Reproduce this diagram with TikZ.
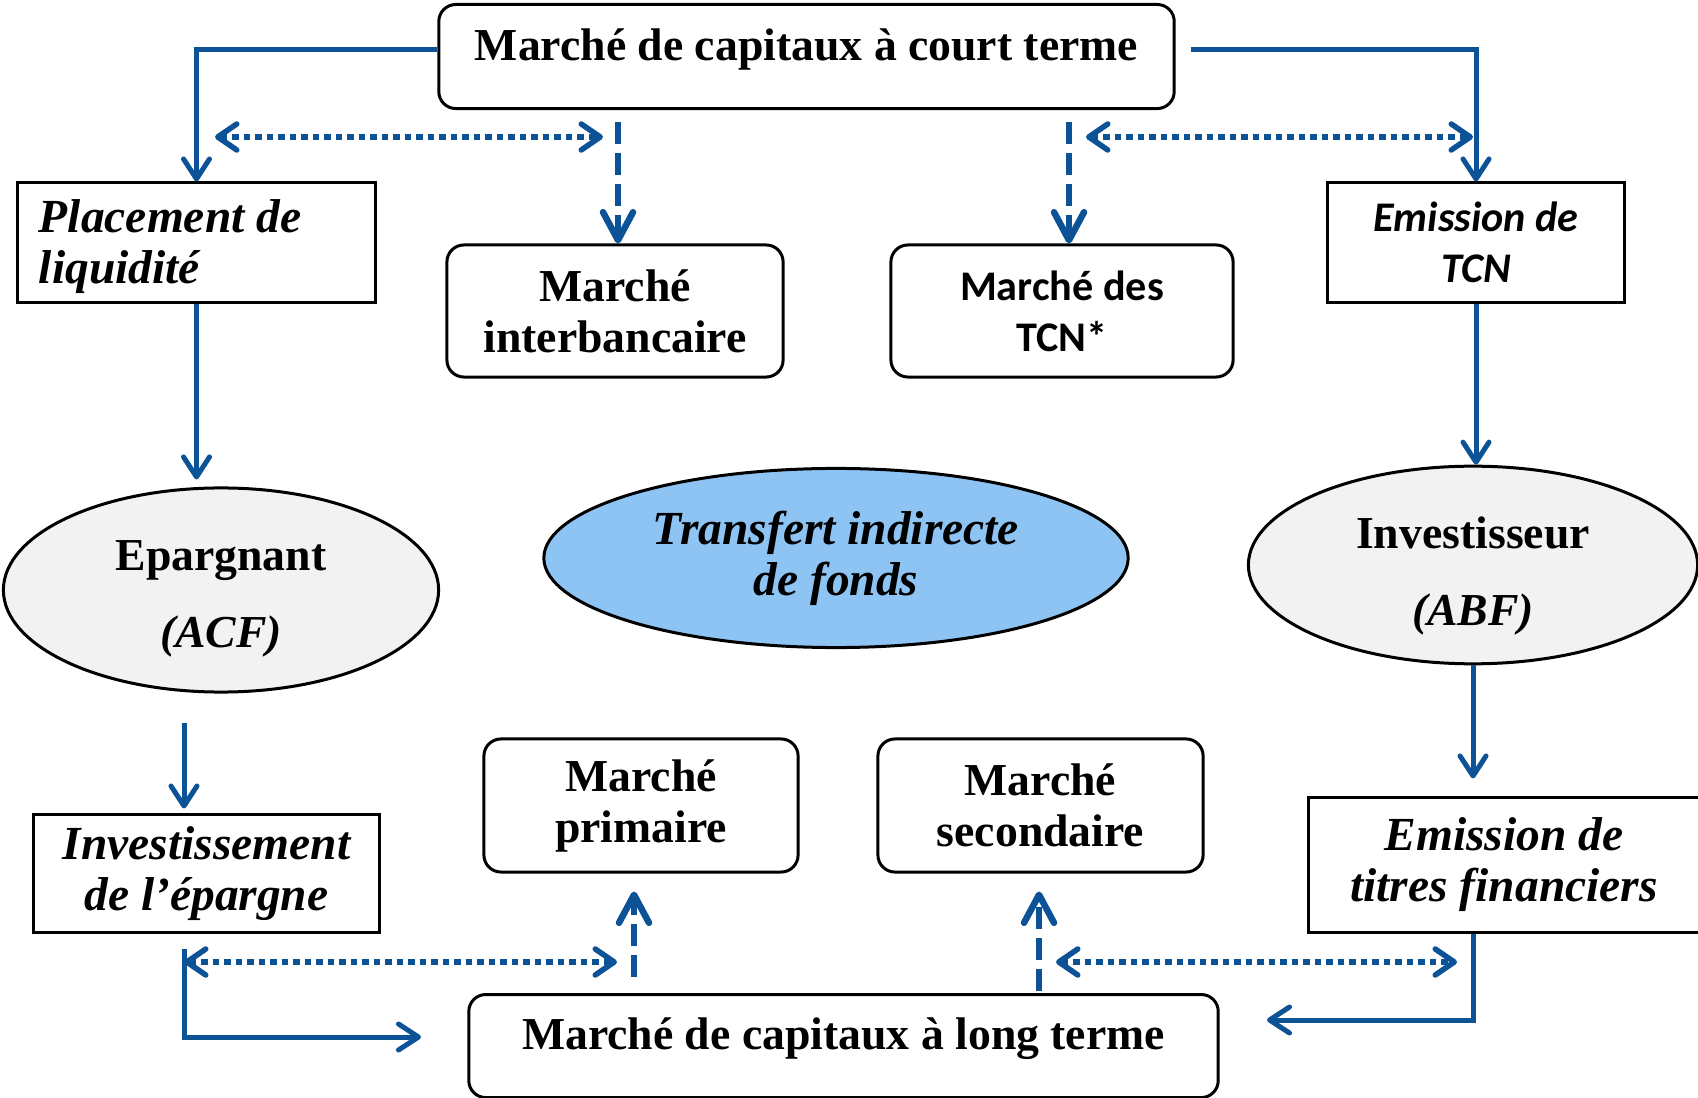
\documentclass[tikz,border=0pt]{standalone}
\usepackage{fontspec}
\setmainfont{Liberation Serif}
\newfontfamily\calib{Carlito}
\usetikzlibrary{arrows.meta, positioning, shapes.geometric}
\definecolor{flowblue}{RGB}{11,82,150}
\definecolor{ovalgray}{RGB}{242,242,242}
\definecolor{ovalblue}{RGB}{142,196,244}

\begin{document}
\begin{tikzpicture}[
    x=0.01cm, y=-0.01cm,
    box/.style={draw, line width=0.03cm, fill=white, align=center, inner sep=0pt, font=\fontsize{13}{14.5}\selectfont\bfseries},
    rbox/.style={box, rounded corners=0.17cm},
    ibox/.style={box, font=\fontsize{13.5}{14.5}\selectfont\bfseries\itshape},
    sbox/.style={font=\calib\fontsize{12}{14.5}\selectfont\bfseries},
    oval/.style={draw, ellipse, line width=0.03cm, fill=ovalgray, align=center, inner sep=0pt, font=\fontsize{13}{14.5}\selectfont\bfseries},
    arrow/.style={flowblue, line width=0.05cm, -{Straight Barb[length=0.2cm, width=0.26cm, round]}},
    twoway/.style={flowblue, line width=0.055cm, dash pattern=on 0.065cm off 0.05cm, {Straight Barb[length=0.19cm, width=0.26cm, round]}-{Straight Barb[length=0.19cm, width=0.26cm, round]}},
    dasharrow/.style={flowblue, line width=0.065cm, dash pattern=on 0.22cm off 0.09cm, -{Straight Barb[length=0.28cm, width=0.3cm, round]}}
]
\fill[white] (0,0) rectangle (1698,1098);
\useasboundingbox (0,0) rectangle (1698,1098);

\node[rbox, anchor=north, minimum width=7.35cm, text height=0.56cm, text depth=0.48cm] (ct) at (806.5,3) {Marché de capitaux à court terme};

\node[ibox, align=flush left, text width=3.15cm, inner xsep=0.21cm, minimum height=1.19cm] (plac) at (196.5,242.5) {\rule{0pt}{0.42cm}Placement de\\liquidité};
\node[rbox, minimum width=3.36cm, minimum height=1.32cm] (inter) at (615,311) {Marché\\interbancaire};
\node[rbox, sbox, minimum width=3.42cm, minimum height=1.32cm] (tcnm) at (1062,311) {Marché des\\TCN*};
\node[box, font=\calib\fontsize{12}{14.5}\selectfont\bfseries\itshape, minimum width=2.96cm, minimum height=1.19cm] (tcn) at (1476,242.5) {Emission de\\TCN};

\node[oval, minimum width=4.35cm, minimum height=2.04cm] (epar) at (221,590) {\rule{0pt}{0.47cm}Epargnant\\[0.26cm]\textit{(ACF)}};
\node[oval, fill=ovalblue, font=\fontsize{13.5}{14.5}\selectfont\bfseries\itshape, minimum width=5.84cm, minimum height=1.79cm] (transf) at (836,558) {Transfert indirecte\\de fonds};
\node[oval, minimum width=4.49cm, minimum height=1.95cm] (invest) at (1473,565) {\rule{0pt}{0.53cm}Investisseur\\[0.26cm]\textit{(ABF)}};

\node[ibox, minimum width=3.45cm, minimum height=1.17cm] (inve) at (206.5,873.5) {Investissement\\de l’épargne};
\node[rbox, minimum width=3.14cm, minimum height=1.33cm] (prim) at (641,805.5) {Marché\\primaire};
\node[rbox, minimum width=3.25cm, minimum height=1.33cm] (seco) at (1040.5,805.5) {Marché\\secondaire};
\node[ibox, minimum width=3.9cm, minimum height=1.34cm] (titr) at (1504,865) {Emission de\\titres financiers};

\node[rbox, anchor=north, minimum width=7.49cm, text height=0.55cm, text depth=0.48cm] (lt) at (843.5,993) {Marché de capitaux à long terme};

\coordinate (d1) at (215,137);
\coordinate (d2) at (603,137);
\coordinate (d3) at (1086,137);
\coordinate (d4) at (1473,137);
\coordinate (s1) at (618,122);
\coordinate (s2) at (1069,122);
\coordinate (e1) at (184,723);
\coordinate (e2) at (184,949);
\coordinate (e3) at (421,1037);
\coordinate (e4) at (1267,1020);
\coordinate (d5) at (184,962);
\coordinate (d6) at (617,962);
\coordinate (d7) at (1056,962);
\coordinate (d8) at (1457,962);
\coordinate (s3) at (634,977);
\coordinate (s4) at (1039,991);

\draw[arrow] ([yshift=0.07cm]ct.west) -| (plac.north);
\draw[arrow] ([xshift=0.15cm, yshift=0.07cm]ct.east) -| (tcn.north);
\draw[twoway] (d1) -- (d2);
\draw[twoway] (d3) -- (d4);
\draw[dasharrow] (s1) -- (s1 |- inter.north);
\draw[dasharrow] (s2) -- (s2 |- tcnm.north);

\draw[arrow, shorten >=0.07cm] (plac.south) -- (plac.south |- epar.north);
\draw[arrow] (tcn.south) -- (tcn.south |- invest.north);
\draw[arrow, shorten >=0.05cm] (e1) -- (e1 |- inve.north);
\draw[arrow, shorten >=0.18cm] (invest.south) -- (invest.south |- titr.north);

\draw[arrow] (e2) |- (e3);
\draw[arrow] (titr.south -| invest.south) |- (e4);
\draw[twoway] (d5) -- (d6);
\draw[twoway] (d7) -- (d8);
\draw[dasharrow, shorten >=0.18cm] (s3) -- (s3 |- prim.south);
\draw[dasharrow, shorten >=0.18cm] (s4) -- (s4 |- seco.south);
\end{tikzpicture}
\end{document}
